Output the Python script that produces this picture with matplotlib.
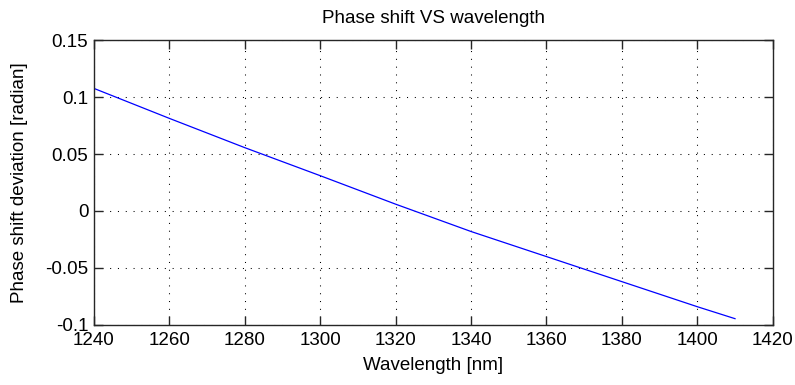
import numpy as np
import matplotlib
matplotlib.use("Agg")
import matplotlib.pyplot as plt

# Phase shift deviation sampled across the band
wavelength = [1240, 1260, 1280, 1300, 1320, 1340, 1360, 1380, 1400, 1410]
phase_dev = [0.1076, 0.0813, 0.0556, 0.0310, 0.0060, -0.0180, -0.0400, -0.0620, -0.0840, -0.0945]

xticks = [1240, 1260, 1280, 1300, 1320, 1340, 1360, 1380, 1400, 1420]
yticks = [-0.1, -0.05, 0, 0.05, 0.1, 0.15]
ytick_labels = ["-0.1", "-0.05", "0", "0.05", "0.1", "0.15"]

plt.rcParams['font.family'] = ['Liberation Sans', 'DejaVu Sans']
plt.rcParams['font.size'] = 13.5

fig = plt.figure(figsize=(7.95, 3.85), dpi=100)
ax = fig.add_axes([0.118, 0.156, 0.854, 0.740])

ax.plot(wavelength, phase_dev, color='#0000ff', linewidth=0.9)

ax.set_xlim(1240, 1420)
ax.set_ylim(-0.1, 0.15)
ax.set_xticks(xticks)
ax.set_yticks(yticks)
ax.set_yticklabels(ytick_labels)

ax.tick_params(direction='in', length=6.5, width=1, top=True, right=True,
               colors='#262626', labelcolor='black')
ax.tick_params(axis='x', pad=5)
ax.tick_params(axis='y', pad=4)
for s in ax.spines.values():
    s.set_linewidth(1.0)
    s.set_color('#262626')

ax.grid(True, color='black', linestyle=(0, (1, 6.5)), linewidth=0.75)

ax.set_title('Phase shift VS wavelength', fontsize=13.5, pad=12)
ax.set_xlabel('Wavelength [nm]', fontsize=13.5, labelpad=6)
ax.set_ylabel('Phase shift deviation [radian]', fontsize=13.5, labelpad=12)

fig.savefig('out.png', dpi=100)
